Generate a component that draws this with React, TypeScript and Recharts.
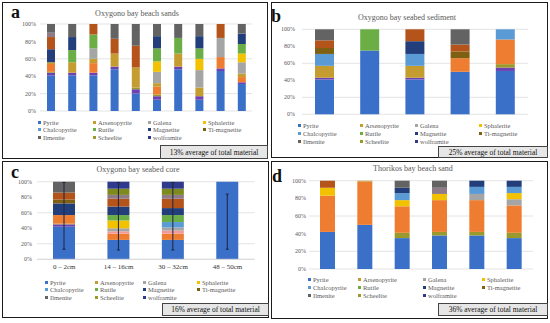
import { Bar, BarChart, CartesianGrid, ErrorBar, XAxis, YAxis } from "recharts";

const serif = '"Liberation Serif", "Times New Roman", serif';

// stacking order, bottom to top
const stackOrder = [
  "pyrite", "wolframite", "scheelite", "orange", "pink", "arsenopyrite", "galena",
  "sphalerite", "chalcopyrite", "rutile", "magnetite", "darkBrown", "tiMagnetite",
  "mauve", "ilmenite", "olive", "navy",
];

const seriesColors: Record<string, string> = {
  pyrite: "#3A70C8",
  wolframite: "#6E41B2",
  scheelite: "#9A9A2C",
  orange: "#EE7D31",
  pink: "#F29A9A",
  arsenopyrite: "#C59C30",
  galena: "#A5A5A5",
  sphalerite: "#F2C200",
  chalcopyrite: "#5B9BD5",
  rutile: "#6AAE45",
  magnetite: "#223F7C",
  darkBrown: "#7F6012",
  tiMagnetite: "#B5541A",
  mauve: "#8F7A88",
  ilmenite: "#636363",
  olive: "#7F8A1E",
  navy: "#2F3A8C",
};

const legendNames = [
  "Pyrite", "Arsenopyrite", "Galena", "Sphalerite",
  "Chalcopyrite", "Rutile", "Magnetite", "Ti-magnetite",
  "Ilmenite", "Scheelite", "wolframite",
];
const legendKeys = [
  "pyrite", "arsenopyrite", "galena", "sphalerite",
  "chalcopyrite", "rutile", "magnetite", "darkBrown",
  "ilmenite", "scheelite", "navy",
];

const yTicks = [0, 20, 40, 60, 80, 100];

// a: Oxygono bay beach sands
const aSamples = ["1", "2", "3", "4", "5", "6", "7", "8", "9", "10"];
const aPyrite = [41, 41, 41, 48, 20, 13, 48, 13, 46, 31];
const aWolframite = [3, 3, 3, 3, 5, 4, 3, 4, 3, 2];
const aScheelite = [1, 0, 0, 0, 2, 2, 0, 0, 0, 0];
const aOrange = [9, 0, 11, 0, 0, 9, 0, 0, 13, 6];
const aArsenopyrite = [2, 12, 5, 15, 23, 4, 15, 10, 0, 4];
const aGalena = [0, 0, 12, 0, 0, 13, 0, 20, 22, 13];
const aSphalerite = [0, 0, 0, 0, 0, 12, 0, 13, 0, 10];
const aRutile = [0, 14, 16, 0, 0, 15, 18, 12, 0, 11];
const aMagnetite = [15, 15, 0, 0, 0, 14, 0, 14, 0, 12];
const aTiMagnetite = [14, 0, 12, 17, 25, 0, 0, 0, 16, 0];
const aMauve = [5, 0, 0, 0, 0, 0, 0, 0, 0, 0];
const aIlmenite = [10, 15, 0, 17, 25, 14, 16, 14, 0, 11];

// b: Oxygono bay seabed sediment
const bSamples = ["1", "2", "3", "4", "5"];
const bPyrite = [41, 75, 41, 50, 51];
const bWolframite = [2, 0, 2, 0, 4];
const bScheelite = [0, 0, 0, 0, 4];
const bOrange = [0, 0, 0, 16, 29];
const bArsenopyrite = [14, 0, 14, 0, 0];
const bChalcopyrite = [14, 0, 14, 0, 12];
const bRutile = [0, 25, 0, 0, 0];
const bMagnetite = [0, 0, 15, 0, 0];
const bDarkBrown = [7, 0, 0, 8, 0];
const bTiMagnetite = [9, 0, 14, 8, 0];
const bIlmenite = [13, 0, 0, 18, 0];

// c: Oxygono bay seabed core
const cDepths = ["0 – 2cm", "14 – 16cm", "30 – 32cm", "48 – 50cm"];
const cPyrite = [42, 25, 25, 100];
const cWolframite = [3, 0, 0, 0];
const cScheelite = [1, 0, 0, 0];
const cOrange = [11, 8, 8, 0];
const cPink = [0, 3, 4, 0];
const cGalena = [0, 4, 4, 0];
const cSphalerite = [0, 10, 0, 0];
const cChalcopyrite = [0, 0, 7, 0];
const cRutile = [0, 7, 9, 0];
const cMagnetite = [15, 11, 9, 0];
const cDarkBrown = [5, 0, 0, 0];
const cTiMagnetite = [9, 10, 12, 0];
const cMauve = [0, 5, 5, 0];
const cIlmenite = [14, 0, 0, 0];
const cOlive = [0, 8, 8, 0];
const cNavy = [0, 9, 9, 0];
const cErrLow = [29, 13, 13, 87];
const cErrHigh = [57, 74, 74, -16];

// d: Thorikos bay beach sand
const dSamples = ["1", "2", "3", "4", "5", "6"];
const dPyrite = [42, 50, 35, 38, 38, 35];
const dScheelite = [0, 0, 6, 4, 4, 6];
const dOrange = [41, 49, 30, 36, 36, 31];
const dArsenopyrite = [0, 1, 0, 0, 0, 0];
const dGalena = [0, 0, 0, 0, 7, 7];
const dSphalerite = [9, 0, 7, 7, 0, 7];
const dChalcopyrite = [0, 0, 8, 0, 8, 7];
const dMagnetite = [0, 0, 6, 0, 7, 7];
const dTiMagnetite = [8, 0, 0, 0, 0, 0];
const dMauve = [0, 0, 0, 7, 0, 0];
const dIlmenite = [0, 0, 8, 8, 0, 0];

type Row = Record<string, string | number | number[]>;

function buildRows(categories: string[], series: Record<string, number[]>) {
  return categories.map((name, i) => {
    const row: Row = { name };
    Object.keys(series).forEach((key) => {
      row[key] = series[key][i];
    });
    return row;
  });
}

type PanelProps = {
  letter: string;
  title: string;
  note: string;
  rows: Row[];
  keys: string[];
  box: { left: number; top: number; width: number; height: number };
  margin: { top: number; right: number; bottom: number };
  yWidth: number;
  tickGap: number;
  barSize: number;
  showX?: boolean;
  withError?: boolean;
  letterPos: { x: number; y: number };
  titlePos: { x: number; y: number };
  legendX: number[];
  legendY: number[];
  noteBox: { left: number; top: number; width: number; height: number };
};

function Panel(p: PanelProps) {
  return (
    <>
      <div
        style={{
          position: "absolute",
          left: p.box.left,
          top: p.box.top,
          width: p.box.width,
          height: p.box.height,
          boxSizing: "border-box",
          border: "1.5px solid #1b1b1b",
        }}
      />
      <div style={{ position: "absolute", left: p.box.left, top: p.box.top }}>
        <BarChart
          width={p.box.width}
          height={p.box.height}
          data={p.rows}
          margin={{ top: p.margin.top, right: p.margin.right, bottom: p.showX ? p.margin.bottom - 20 : p.margin.bottom, left: 0 }}
        >
          <CartesianGrid vertical={false} stroke="#D9D9D9" strokeWidth={0.7} />
          <XAxis
            dataKey="name"
            hide={!p.showX}
            height={20}
            interval={0}
            axisLine={{ stroke: "#D9D9D9" }}
            tickLine={false}
            tickSize={2}
            tickMargin={3}
            tick={{ fontSize: 7, fill: "#333", fontFamily: serif }}
          />
          <YAxis
            domain={[0, 100]}
            ticks={yTicks}
            width={p.yWidth}
            axisLine={false}
            tickLine={false}
            tickSize={1}
            tickMargin={p.tickGap - 1}
            tickFormatter={(v: number) => `${v}%`}
            tick={{ fontSize: 6, fill: "#595959", fontFamily: serif }}
          />
          {p.keys.map((key) => (
            <Bar
              key={key}
              dataKey={key}
              stackId="s"
              fill={seriesColors[key]}
              barSize={p.barSize}
              isAnimationActive={false}
            >
              {p.withError && key === "pyrite" ? (
                <ErrorBar dataKey="err" width={1.5} stroke="#1c2340" strokeWidth={1} direction="y" isAnimationActive={false} />
              ) : null}
            </Bar>
          ))}
        </BarChart>
      </div>
      <div
        style={{
          position: "absolute",
          left: p.letterPos.x,
          top: p.letterPos.y,
          fontFamily: serif,
          fontWeight: "bold",
          fontSize: 18,
          lineHeight: "18px",
          color: "#111",
        }}
      >
        {p.letter}
      </div>
      <div
        style={{
          position: "absolute",
          left: p.titlePos.x,
          top: p.titlePos.y,
          transform: "translate(-50%, -50%)",
          fontFamily: serif,
          fontSize: 8,
          color: "#595959",
          whiteSpace: "nowrap",
        }}
      >
        {p.title}
      </div>
      {legendNames.map((name, i) => (
        <div
          key={name}
          style={{
            position: "absolute",
            left: p.legendX[i % 4],
            top: p.legendY[Math.floor(i / 4)] - 4,
            height: 8,
            display: "flex",
            alignItems: "center",
            fontFamily: serif,
            fontSize: 6.5,
            color: "#595959",
            whiteSpace: "nowrap",
          }}
        >
          <span style={{ width: 3, height: 3, background: seriesColors[legendKeys[i]], marginRight: 2 }} />
          {name}
        </div>
      ))}
      <div
        style={{
          position: "absolute",
          left: p.noteBox.left,
          top: p.noteBox.top,
          width: p.noteBox.width,
          height: p.noteBox.height,
          boxSizing: "border-box",
          border: "1px solid #444",
          background: "#E6E6E6",
          display: "flex",
          alignItems: "center",
          justifyContent: "center",
          fontFamily: serif,
          fontSize: 7.5,
          color: "#111",
          whiteSpace: "nowrap",
        }}
      >
        {p.note}
      </div>
    </>
  );
}

export default function App() {
  const aRows = buildRows(aSamples, {
    pyrite: aPyrite, wolframite: aWolframite, scheelite: aScheelite, orange: aOrange,
    arsenopyrite: aArsenopyrite, galena: aGalena, sphalerite: aSphalerite, rutile: aRutile,
    magnetite: aMagnetite, tiMagnetite: aTiMagnetite, mauve: aMauve, ilmenite: aIlmenite,
  });
  const bRows = buildRows(bSamples, {
    pyrite: bPyrite, wolframite: bWolframite, scheelite: bScheelite, orange: bOrange,
    arsenopyrite: bArsenopyrite, chalcopyrite: bChalcopyrite, rutile: bRutile,
    magnetite: bMagnetite, darkBrown: bDarkBrown, tiMagnetite: bTiMagnetite, ilmenite: bIlmenite,
  });
  const cRows = buildRows(cDepths, {
    pyrite: cPyrite, wolframite: cWolframite, scheelite: cScheelite, orange: cOrange,
    pink: cPink, galena: cGalena, sphalerite: cSphalerite, chalcopyrite: cChalcopyrite,
    rutile: cRutile, magnetite: cMagnetite, darkBrown: cDarkBrown, tiMagnetite: cTiMagnetite,
    mauve: cMauve, ilmenite: cIlmenite, olive: cOlive, navy: cNavy,
  }).map((row, i) => ({ ...row, err: [cErrLow[i], cErrHigh[i]] }));
  const dRows = buildRows(dSamples, {
    pyrite: dPyrite, scheelite: dScheelite, orange: dOrange, arsenopyrite: dArsenopyrite,
    galena: dGalena, sphalerite: dSphalerite, chalcopyrite: dChalcopyrite,
    magnetite: dMagnetite, tiMagnetite: dTiMagnetite, mauve: dMauve, ilmenite: dIlmenite,
  });

  const keysOf = (rows: Row[]) => stackOrder.filter((k) => k in rows[0]);

  return (
    <div style={{ position: "absolute", left: 0, top: 0, width: 550, height: 323, background: "#fff", overflow: "hidden" }}>
      <Panel
        letter="a"
        title="Oxygono bay beach sands"
        note="13% average of total material"
        rows={aRows}
        keys={keysOf(aRows)}
        box={{ left: 2, top: 2, width: 266, height: 157 }}
        margin={{ top: 22, right: 16, bottom: 48 }}
        yWidth={38}
        tickGap={4}
        barSize={8}
        letterPos={{ x: 11, y: 3 }}
        titlePos={{ x: 137, y: 13 }}
        legendX={[38, 93, 148, 203]}
        legendY={[122, 129.5, 137]}
        noteBox={{ left: 160, top: 145, width: 108, height: 14 }}
      />
      <Panel
        letter="b"
        title="Oxygono bay seabed sediment"
        note="25% average of total material"
        rows={bRows}
        keys={keysOf(bRows)}
        box={{ left: 271, top: 2, width: 277, height: 156 }}
        margin={{ top: 27.3, right: 20, bottom: 43.7 }}
        yWidth={31}
        tickGap={7}
        barSize={19}
        letterPos={{ x: 271, y: 7 }}
        titlePos={{ x: 407, y: 17 }}
        legendX={[298, 360, 415, 479]}
        legendY={[125, 133, 141]}
        noteBox={{ left: 438, top: 146, width: 110, height: 12 }}
      />
      <Panel
        letter="c"
        title="Oxygono bay seabed core"
        note="16% average of total material"
        rows={cRows}
        keys={keysOf(cRows)}
        box={{ left: 2, top: 161, width: 267, height: 157 }}
        margin={{ top: 20.7, right: 14.3, bottom: 58.7 }}
        yWidth={35}
        tickGap={5}
        barSize={22}
        showX
        withError
        letterPos={{ x: 11, y: 163 }}
        titlePos={{ x: 138, y: 169 }}
        legendX={[45, 95, 143, 197]}
        legendY={[282, 289.5, 297]}
        noteBox={{ left: 162, top: 303, width: 107, height: 13 }}
      />
      <Panel
        letter="d"
        title="Thorikos bay beach sand"
        note="36% average of total material"
        rows={dRows}
        keys={keysOf(dRows)}
        box={{ left: 271, top: 161, width: 277, height: 158 }}
        margin={{ top: 19.7, right: 15, bottom: 50 }}
        yWidth={38}
        tickGap={3}
        barSize={15}
        letterPos={{ x: 272, y: 167 }}
        titlePos={{ x: 413, y: 168 }}
        legendX={[308, 358, 423, 482]}
        legendY={[279, 287, 295]}
        noteBox={{ left: 438, top: 303, width: 110, height: 13 }}
      />
    </div>
  );
}
